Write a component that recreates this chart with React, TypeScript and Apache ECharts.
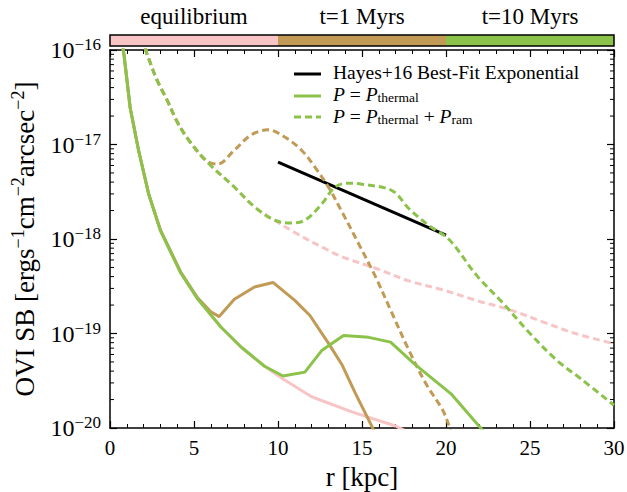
import React, { useEffect, useRef } from "react";
import * as echarts from "echarts";

const FONT = "Liberation Serif";

// top phase bar
const phaseLabels = ["equilibrium", "t=1 Myrs", "t=10 Myrs"];
const phaseColors = ["#f7c5c5", "#c19a55", "#8bc34a"];
const phaseSpan = [1, 1, 1];

// axes
const xMin = 0;
const xMax = 30;
const xInterval = 5;
const yMin = 1e-20;
const yMax = 1e-16;
const minorMultipliers = [2, 3, 4, 5, 6, 7, 8, 9];
const minorDecades = [-20, -19, -18, -17];

// [r (kpc), SB]
const eqThermal: [number, number][] = [
  [0.75, 1.12e-16], [0.84, 8.7e-17], [1.2, 2.45e-17], [1.7, 8.7e-18], [2.3, 3.0e-18],
  [3.0, 1.23e-18], [4.2, 4.4e-19], [5.2, 2.35e-19], [6.6, 1.17e-19], [7.8, 7.2e-20],
  [9.2, 4.5e-20], [10.3, 3.3e-20], [12.0, 2.14e-20], [14.4, 1.48e-20], [17.0, 1.05e-20],
  [17.5, 9.5e-21],
];
const eqRam: [number, number][] = [
  [2.1, 1.05e-16], [2.2, 9.1e-17], [2.8, 4.8e-17], [3.4, 2.95e-17], [4.0, 1.74e-17],
  [4.6, 1.17e-17], [5.8, 6.5e-18], [7.4, 3.55e-18], [8.6, 2.19e-18], [9.8, 1.58e-18],
  [11.0, 1.17e-18], [12.8, 7.9e-19], [13.8, 6.5e-19], [15.8, 4.9e-19], [17.8, 3.6e-19],
  [19.8, 2.9e-19], [21.8, 2.24e-19], [23.8, 1.78e-19], [25.8, 1.32e-19], [27.7, 1.0e-19],
  [30, 7.8e-20],
];
const t1Thermal: [number, number][] = [
  [0.75, 1.12e-16], [0.84, 8.7e-17], [1.2, 2.45e-17], [1.7, 8.7e-18], [2.3, 3.0e-18],
  [3.0, 1.25e-18], [4.2, 4.5e-19], [5.2, 2.4e-19], [6.0, 1.7e-19], [6.5, 1.51e-19],
  [7.4, 2.3e-19], [8.6, 3.1e-19], [9.7, 3.47e-19], [11.0, 2.24e-19], [11.9, 1.55e-19],
  [13.0, 7.9e-20], [13.8, 4.7e-20], [14.6, 2.34e-20], [15.6, 1.03e-20], [15.8, 8.7e-21],
];
const t1Ram: [number, number][] = [
  [2.1, 1.05e-16], [2.2, 9.1e-17], [2.8, 4.8e-17], [3.4, 2.95e-17], [4.0, 1.74e-17],
  [4.6, 1.17e-17], [5.7, 6.8e-18], [6.4, 6.2e-18], [7.4, 8.7e-18], [8.4, 1.26e-17],
  [9.4, 1.43e-17], [10.4, 1.2e-17], [11.4, 8.7e-18], [12.2, 5.75e-18], [13.0, 3.55e-18],
  [13.8, 1.95e-18], [14.8, 8.9e-19], [15.8, 4.0e-19], [16.8, 1.62e-19], [17.8, 6.6e-20],
  [18.8, 2.95e-20], [19.8, 1.55e-20], [20.2, 1.03e-20], [20.3, 8.9e-21],
];
const t10Thermal: [number, number][] = [
  [0.75, 1.12e-16], [0.84, 8.7e-17], [1.2, 2.45e-17], [1.7, 8.7e-18], [2.3, 3.0e-18],
  [3.0, 1.23e-18], [4.2, 4.4e-19], [5.2, 2.35e-19], [6.6, 1.17e-19], [7.8, 7.2e-20],
  [9.2, 4.5e-20], [10.3, 3.55e-20], [11.6, 3.9e-20], [12.6, 6.6e-20], [13.9, 9.5e-20],
  [15.4, 9.1e-20], [16.7, 8.1e-20], [18.1, 4.8e-20], [20.3, 2.3e-20], [22.0, 1.03e-20],
  [22.3, 8.9e-21],
];
const t10Ram: [number, number][] = [
  [2.1, 1.05e-16], [2.2, 9.1e-17], [2.8, 4.8e-17], [3.4, 2.95e-17], [4.0, 1.74e-17],
  [4.6, 1.17e-17], [5.8, 6.5e-18], [7.4, 3.55e-18], [8.6, 2.19e-18], [9.8, 1.58e-18],
  [10.8, 1.48e-18], [11.6, 1.58e-18], [12.6, 2.34e-18], [13.4, 3.55e-18], [14.2, 3.9e-18],
  [15.0, 3.8e-18], [16.8, 3.24e-18], [17.8, 2.09e-18], [19.0, 1.38e-18], [20.2, 9.8e-19],
  [21.8, 4.17e-19], [23.4, 2.09e-19], [25.0, 1.0e-19], [26.6, 5.2e-20], [28.1, 3.24e-20],
  [30, 1.74e-20],
];
const hayesFit: [number, number][] = [
  [10, 6.5e-18],
  [20, 1.1e-18],
];

const DASH = [7, 4];

function lineSeries(name: string, data: [number, number][], color: string, dashed: boolean) {
  return {
    name,
    type: "line",
    xAxisIndex: 0,
    yAxisIndex: 0,
    data,
    showSymbol: false,
    symbol: "none",
    smooth: dashed ? 0.35 : false,
    lineStyle: { color, width: 3, type: dashed ? DASH : "solid", cap: "butt" },
    silent: true,
  };
}

export default function App() {
  const ref = useRef<HTMLDivElement>(null);
  useEffect(() => {
    if (!ref.current) return;
    const chart = echarts.init(ref.current, null, { renderer: "svg" });
    const minorTickValues = minorDecades.flatMap((d) =>
      minorMultipliers.map((m) => m * Math.pow(10, d))
    );
    const axisLineStyle = { color: "#000", width: 1.5 };
    const tickStyle = { inside: true, length: 7, lineStyle: { color: "#000", width: 1.2 } };
    const LEG = 19.5;
    const legendRich = {
      n: { fontSize: LEG, lineHeight: LEG, fontFamily: FONT, fill: "#000" },
      i: { fontSize: LEG, lineHeight: LEG, fontFamily: FONT, fontStyle: "italic", fill: "#000" },
      sub: { fontSize: 13.5, lineHeight: 13.5, fontFamily: FONT, fill: "#000", padding: [6, 0, 0, 0] },
    };
    const option: any = {
      animation: false,
      textStyle: { fontFamily: FONT },
      grid: [
        { left: 110, right: 13, top: 50, bottom: 64, outerBoundsMode: "none" },
        { left: 110, right: 13, top: 35, height: 11, outerBoundsMode: "none" },
      ],
      xAxis: [
        {
          gridIndex: 0,
          type: "value",
          min: xMin,
          max: xMax,
          interval: xInterval,
          position: "bottom",
          axisLine: { onZero: false, lineStyle: axisLineStyle },
          axisTick: tickStyle,
          minorTick: { show: true, splitNumber: 5, length: 4, lineStyle: { color: "#000", width: 1 } },
          splitLine: { show: false },
          axisLabel: { fontSize: 21, color: "#000", fontFamily: FONT, margin: 9 },
          name: "r [kpc]",
          nameLocation: "middle",
          nameGap: 35,
          nameTextStyle: { fontSize: 27, color: "#000", fontFamily: FONT },
        },
        {
          gridIndex: 0,
          type: "value",
          min: xMin,
          max: xMax,
          interval: xInterval,
          position: "top",
          axisLine: { onZero: false, lineStyle: axisLineStyle },
          axisTick: tickStyle,
          minorTick: { show: true, splitNumber: 5, length: 4, lineStyle: { color: "#000", width: 1 } },
          splitLine: { show: false },
          axisLabel: { show: false },
        },
        { gridIndex: 1, type: "value", min: 0, max: 3, show: false },
      ],
      yAxis: [
        {
          gridIndex: 0,
          type: "log",
          logBase: 10,
          min: yMin,
          max: yMax,
          position: "left",
          axisLine: { onZero: false, lineStyle: axisLineStyle },
          axisTick: tickStyle,
          splitLine: { show: false },
          axisLabel: {
            margin: 9,
            fontFamily: FONT,
            fontSize: 24,
            color: "#000",
            formatter: (v: number) => `{b|10}{s|−${-Math.round(Math.log10(v))}}`,
            rich: {
              b: { fontSize: 24, fontFamily: FONT, color: "#000" },
              s: { fontSize: 17, fontFamily: FONT, color: "#000", padding: [0, 0, 11, 0] },
            },
          },
          name: "{t|OVI SB [ergs}{s|−1}{t|cm}{s|−2}{t|arcsec}{s|−2}{t|]}",
          nameLocation: "middle",
          nameRotate: 90,
          nameGap: 70,
          nameTextStyle: {
            fontFamily: FONT,
            rich: {
              t: { fontSize: 27, fontFamily: FONT, color: "#000" },
              s: { fontSize: 18, fontFamily: FONT, color: "#000", padding: [0, 0, 13, 0] },
            },
          },
        },
        {
          gridIndex: 0,
          type: "log",
          logBase: 10,
          min: yMin,
          max: yMax,
          position: "right",
          axisLine: { onZero: false, lineStyle: axisLineStyle },
          axisTick: tickStyle,
          splitLine: { show: false },
          axisLabel: { show: false },
        },
        { gridIndex: 1, type: "category", data: ["phase"], show: false },
      ],
      series: [
        ...phaseLabels.map((name, i) => ({
          name,
          type: "bar",
          xAxisIndex: 2,
          yAxisIndex: 2,
          stack: "phase",
          barWidth: "100%",
          data: [phaseSpan[i]],
          itemStyle: { color: phaseColors[i] },
          label: {
            show: true,
            position: "top",
            formatter: name,
            fontSize: 23,
            fontFamily: FONT,
            color: "#000",
            distance: 7,
          },
          silent: true,
        })),
        lineSeries("Hayes+16 Best-Fit Exponential", hayesFit, "#000", false),
        lineSeries("eq thermal", eqThermal, phaseColors[0], false),
        lineSeries("eq ram", eqRam, phaseColors[0], true),
        lineSeries("t1 thermal", t1Thermal, phaseColors[1], false),
        lineSeries("t1 ram", t1Ram, phaseColors[1], true),
        lineSeries("P = P_thermal", t10Thermal, phaseColors[2], false),
        lineSeries("P = P_thermal + P_ram", t10Ram, phaseColors[2], true),
        {
          type: "custom",
          xAxisIndex: 0,
          yAxisIndex: 0,
          silent: true,
          encode: { x: 0, y: 1 },
          data: minorTickValues.map((v) => [xMin, v]),
          renderItem: (params: any, api: any) => {
            const v = api.value(1);
            const p0 = api.coord([xMin, v]);
            const p1 = api.coord([xMax, v]);
            return {
              type: "group",
              children: [
                { type: "line", shape: { x1: p0[0], y1: p0[1], x2: p0[0] + 4, y2: p0[1] }, style: { stroke: "#000", lineWidth: 1 } },
                { type: "line", shape: { x1: p1[0] - 4, y1: p1[1], x2: p1[0], y2: p1[1] }, style: { stroke: "#000", lineWidth: 1 } },
              ],
            };
          },
        },
      ],
      graphic: [
        {
          type: "rect",
          z: 100,
          shape: { x: 110, y: 35, width: 504, height: 11 },
          style: { fill: "none", stroke: "#000", lineWidth: 1.5 },
        },
        { type: "line", z: 100, shape: { x1: 294, y1: 74, x2: 321, y2: 74 }, style: { stroke: "#000", lineWidth: 3 } },
        {
          type: "text", z: 100, x: 333, y: 72.5,
          style: { text: "Hayes+16 Best-Fit Exponential", fontSize: LEG, fontFamily: FONT, fill: "#000", verticalAlign: "middle" },
        },
        { type: "line", z: 100, shape: { x1: 294, y1: 96, x2: 321, y2: 96 }, style: { stroke: phaseColors[2], lineWidth: 3 } },
        {
          type: "text", z: 100, x: 333, y: 94.5,
          style: {
            text: "{i|P}{n| = }{i|P}{sub|thermal}",
            fontSize: LEG, fontFamily: FONT, fill: "#000", verticalAlign: "middle",
            rich: legendRich,
          },
        },
        { type: "line", z: 100, shape: { x1: 294, y1: 117, x2: 321, y2: 117 }, style: { stroke: phaseColors[2], lineWidth: 3, lineDash: DASH } },
        {
          type: "text", z: 100, x: 333, y: 116.5,
          style: {
            text: "{i|P}{n| = }{i|P}{sub|thermal}{n| + }{i|P}{sub|ram}",
            fontSize: LEG, fontFamily: FONT, fill: "#000", verticalAlign: "middle",
            rich: legendRich,
          },
        },
      ],
    };
    chart.setOption(option);
    return () => chart.dispose();
  }, []);
  return (
    <div
      ref={ref}
      style={{ position: "fixed", left: 0, top: 0, width: 627, height: 492, background: "#fff" }}
    />
  );
}
